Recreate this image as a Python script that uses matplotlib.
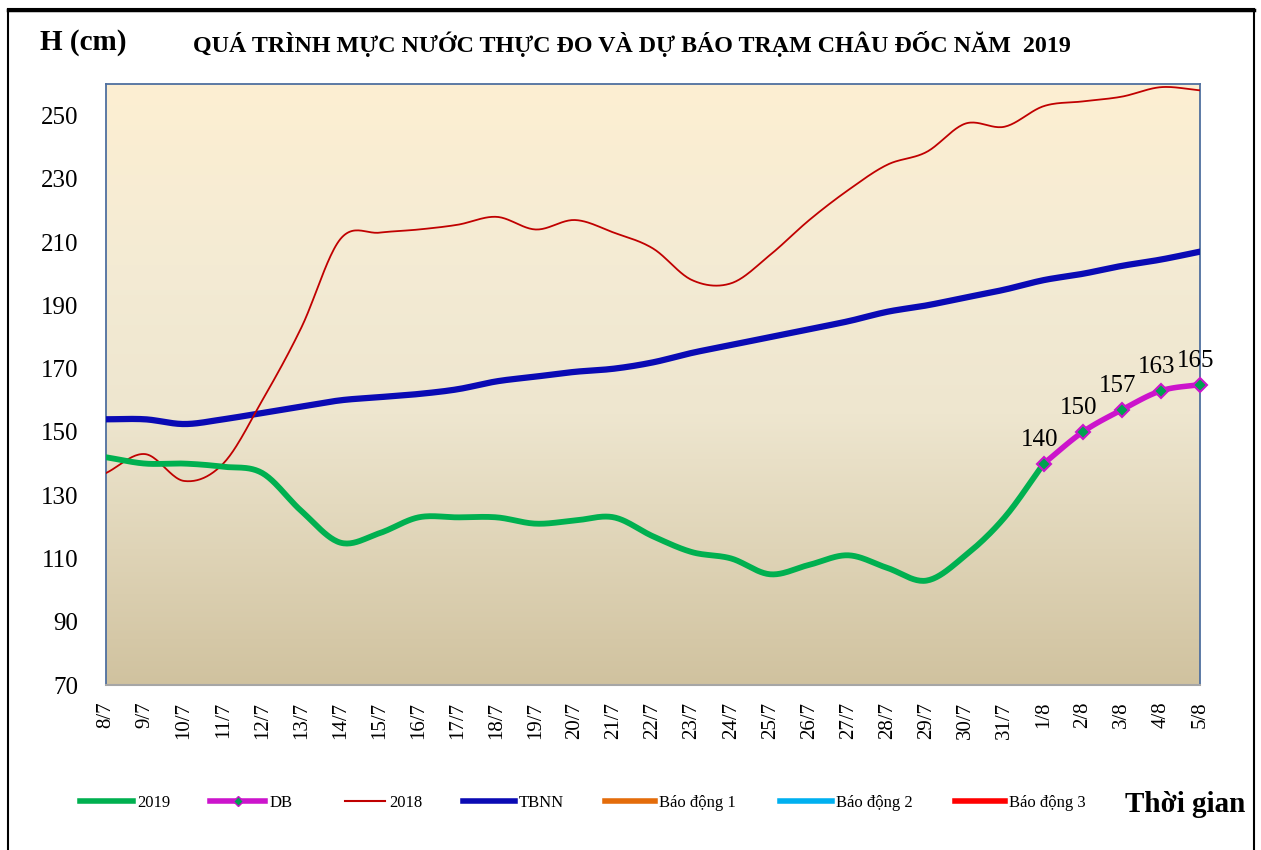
import numpy as np
import matplotlib
matplotlib.use("Agg")
import matplotlib.pyplot as plt
from matplotlib.colors import LinearSegmentedColormap
from matplotlib.lines import Line2D
from matplotlib.patches import Rectangle

plt.rcParams['font.family'] = ['Liberation Serif', 'DejaVu Serif']

dates = ["8/7", "9/7", "10/7", "11/7", "12/7", "13/7", "14/7", "15/7", "16/7", "17/7",
         "18/7", "19/7", "20/7", "21/7", "22/7", "23/7", "24/7", "25/7", "26/7", "27/7",
         "28/7", "29/7", "30/7", "31/7", "1/8", "2/8", "3/8", "4/8", "5/8"]

h2019 = [142, 140, 140, 139, 137, 125, 115, 118, 123, 123, 123, 121, 122, 123, 117,
         112, 110, 105, 108, 111, 107, 103, 111, 123, 140]
db_dates = ["1/8", "2/8", "3/8", "4/8", "5/8"]
db = [140, 150, 157, 163, 165]
h2018 = [137, 143, 134.5, 140, 160, 183, 211, 213, 214, 215.5, 218, 214, 217, 213, 208,
         198, 197, 206, 217, 226.5, 234.5, 238.5, 247.5, 246.5, 253, 254.5, 256, 259, 258]
tbnn = [154, 154, 152.5, 154, 156, 158, 160, 161, 162, 163.5, 166, 167.5, 169, 170, 172,
        175, 177.5, 180, 182.5, 185, 188, 190, 192.5, 195, 198, 200, 202.5, 204.5, 207]
bao_dong = [350, 400, 450]  # Báo động 1, 2, 3 (above the displayed range)


def smooth(xs, ys, n=24):
    xs = np.asarray(xs, float)
    ys = np.asarray(ys, float)
    if len(xs) < 3:
        return xs, ys
    px = np.concatenate([[2 * xs[0] - xs[1]], xs, [2 * xs[-1] - xs[-2]]])
    py = np.concatenate([[2 * ys[0] - ys[1]], ys, [2 * ys[-1] - ys[-2]]])
    ox, oy = [], []
    t = np.linspace(0, 1, n, endpoint=False)
    for i in range(1, len(px) - 2):
        def cr(a0, a1, a2, a3):
            m1 = (a2 - a0) / 2
            m2 = (a3 - a1) / 2
            return ((2 * t**3 - 3 * t**2 + 1) * a1 + (t**3 - 2 * t**2 + t) * m1 +
                    (-2 * t**3 + 3 * t**2) * a2 + (t**3 - t**2) * m2)
        ox.append(cr(px[i - 1], px[i], px[i + 1], px[i + 2]))
        oy.append(cr(py[i - 1], py[i], py[i + 1], py[i + 2]))
    ox.append([xs[-1]])
    oy.append([ys[-1]])
    return np.concatenate(ox), np.concatenate(oy)


W, H = 1261, 850
fig = plt.figure(figsize=(W / 100, H / 100), dpi=100)
ax = fig.add_axes([106 / W, 1 - 685 / H, 1094 / W, 601 / H])

x_all = np.arange(len(dates))
idx = {d: i for i, d in enumerate(dates)}

# gradient background
cmap = LinearSegmentedColormap.from_list(
    "bg", [(0.0, "#D0C29F"), (0.45, "#EEE6CF"), (0.7, "#F4EBD4"), (1.0, "#FDEFD2")])
grad = np.linspace(0, 1, 256).reshape(-1, 1)
ax.imshow(grad, extent=[0, 1, 0, 1], transform=ax.transAxes, aspect='auto',
          cmap=cmap, origin='lower', zorder=0)

# alarm levels (outside visible range)
ba_colors = ["#E46C0A", "#00B0F0", "#FF0000"]
for lvl, c in zip(bao_dong, ba_colors):
    ax.plot([x_all[0], x_all[-1]], [lvl, lvl], color=c, lw=4)

sx, sy = smooth(x_all, tbnn)
ax.plot(sx, sy, color="#0A0AB4", lw=4.5, solid_capstyle='round', zorder=3)
sx, sy = smooth(x_all, h2018)
ax.plot(sx, sy, color="#C00000", lw=1.3, zorder=3)
sx, sy = smooth(x_all[:len(h2019)], h2019)
ax.plot(sx, sy, color="#00B050", lw=4.2, solid_capstyle='round', zorder=4)
xdb = [idx[d] for d in db_dates]
sx, sy = smooth(xdb, db)
ax.plot(sx, sy, color="#CC14CC", lw=4, solid_capstyle='round', zorder=5)
ax.plot(xdb, db, linestyle='none', marker='D', markersize=7, markerfacecolor="#00A050",
        markeredgecolor="#CC14CC", markeredgewidth=1.5, zorder=6, clip_on=False)
for xv, v in zip(xdb, db):
    ax.annotate(str(v), (xv, v), xytext=(-3, 9), textcoords='offset points',
                ha='center', va='bottom', fontsize=18, zorder=7)

ax.set_xlim(x_all[0], x_all[-1])
ax.set_ylim(70, 260)
ax.set_yticks(np.arange(70, 260, 20))
ax.tick_params(axis='y', labelsize=18, length=0, pad=20)
ax.set_xticks(x_all)
ax.set_xticklabels(dates, rotation=90, fontsize=15)
ax.tick_params(axis='x', length=0, pad=12)

for s in ['left', 'top', 'right']:
    ax.spines[s].set_color("#4F6F9F")
    ax.spines[s].set_linewidth(1.3)
ax.spines['bottom'].set_color("#A6A6A6")
ax.spines['bottom'].set_linewidth(1.5)

fig.text(40 / W, 1 - 43 / H, "H (cm)", fontsize=21, fontweight='bold', va='center')
fig.text(193 / W, 1 - 44 / H,
         "QUÁ TRÌNH MỰC NƯỚC THỰC ĐO VÀ DỰ BÁO TRẠM CHÂU ĐỐC NĂM  2019",
         fontsize=17.3, fontweight='bold', va='center')
fig.text(1245 / W, 1 - 805 / H, "Thời gian", fontsize=21, fontweight='bold',
         va='center', ha='right')

handles = [
    Line2D([], [], color="#00B050", lw=4),
    Line2D([], [], color="#CC14CC", lw=4, marker='D', markersize=5,
           markerfacecolor="#00A050", markeredgecolor="#CC14CC"),
    Line2D([], [], color="#C00000", lw=1.5),
    Line2D([], [], color="#0A0AB4", lw=4),
    Line2D([], [], color=ba_colors[0], lw=4),
    Line2D([], [], color=ba_colors[1], lw=4),
    Line2D([], [], color=ba_colors[2], lw=4),
]
labels = ["2019", "DB", "2018", "TBNN", "Báo động 1", "Báo động 2", "Báo động 3"]
starts = [80, 210, 345, 463, 605, 780, 955]
lens = [53, 55, 40, 52, 50, 52, 50]
fs = 12
for h, lab, x0, ln in zip(handles, labels, starts, lens):
    fig.legend([h], [lab], loc='center left', bbox_to_anchor=(x0 / W, 1 - 803 / H),
               frameon=False, fontsize=fs, handlelength=ln / (fs * 100 / 72),
               handletextpad=0.25, borderpad=0, borderaxespad=0)

# outer frame
fig.patches.append(Rectangle((8 / W, -0.01), 1246 / W, 1 - 9 / H + 0.01,
                             transform=fig.transFigure, fill=False, ec='black', lw=1.5))
fig.add_artist(Line2D([8 / W, 1254 / W], [1 - 10 / H] * 2, color='black', lw=2.5,
                      transform=fig.transFigure))

fig.savefig("out.png", dpi=100)
